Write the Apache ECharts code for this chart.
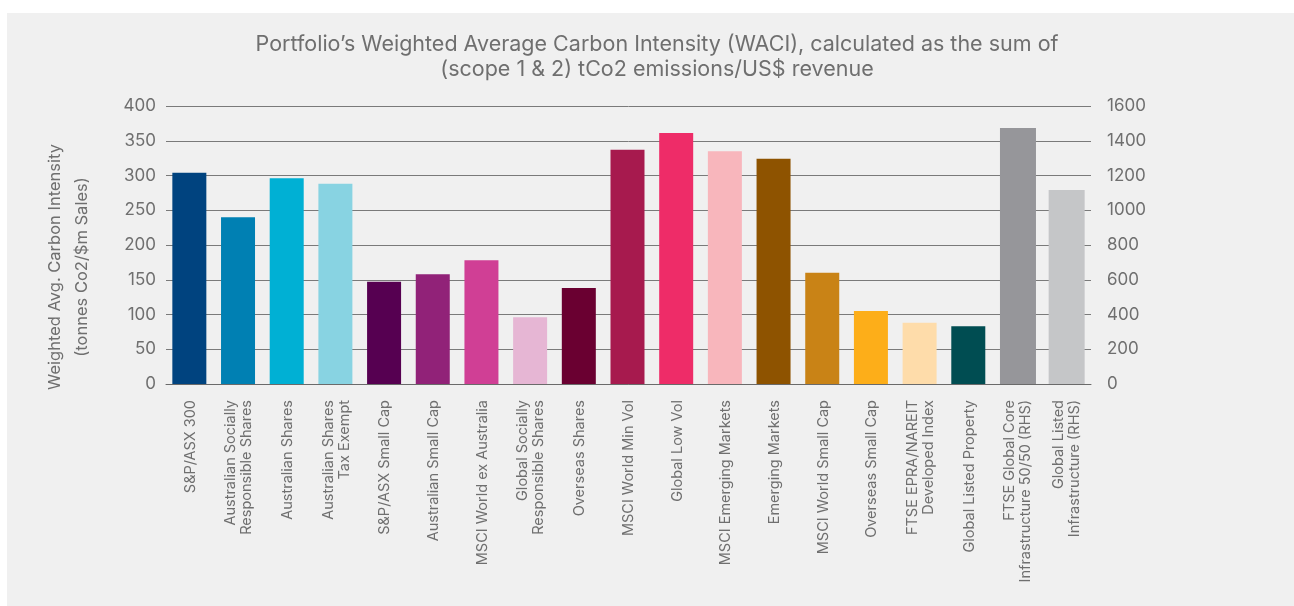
<!DOCTYPE html>
<html>
<head>
<meta charset="utf-8">
<script src="https://cdn.jsdelivr.net/npm/echarts@6/dist/echarts.min.js"></script>
<style>
  html, body { margin: 0; padding: 0; background: #ffffff; }
  #panel { position: absolute; left: 7px; top: 13px; width: 1287px; height: 593px; background: #f0f0f0; }
  #chart { position: absolute; left: 0; top: 0; width: 1294px; height: 606px; }
</style>
</head>
<body>
<div id="panel"></div>
<div id="chart"></div>
<script>
const categories = [
  "S&P/ASX 300",
  "Australian Socially\nResponsible Shares",
  "Australian Shares",
  "Australian Shares\nTax Exempt",
  "S&P/ASX Small Cap",
  "Australian Small Cap",
  "MSCI World ex Australia",
  "Global Socially\nResponsible Shares",
  "Overseas Shares",
  "MSCI World Min Vol",
  "Global Low Vol",
  "MSCI Emerging Markets",
  "Emerging Markets",
  "MSCI World Small Cap",
  "Overseas Small Cap",
  "FTSE EPRA/NAREIT\nDeveloped Index",
  "Global Listed Property",
  "FTSE Global Core\nInfrastructure 50/50 (RHS)",
  "Global Listed\nInfrastructure (RHS)"
];
const lhsValues = [304, 240, 296, 288, 147, 158, 178, 96, 138, 337, 361, 335, 324, 160, 105, 88, 83, null, null];
const rhsValues = [null, null, null, null, null, null, null, null, null, null, null, null, null, null, null, null, null, 1473, 1117];
const barColors = [
  "#00437f", "#0080b3", "#00b0d4", "#88d3e2", "#560051", "#912278", "#d03f95",
  "#e6b6d4", "#6a0031", "#a71a4e", "#ee2c68", "#f8b6bc", "#8e5300", "#c98316",
  "#fdae19", "#fedcaa", "#004d52", "#96969a", "#c5c6c8"
];
const titleLine1 = "Portfolio\u2019s Weighted Average Carbon Intensity (WACI), calculated as the sum of";
const titleLine2 = "(scope 1 & 2) tCo2 emissions/US$ revenue";
const yName = "Weighted Avg. Carbon Intensity\n(tonnes Co2/$m Sales)";

const txt = "#6f6f6f";
const font = "Inter, Roboto, 'Noto Sans', sans-serif";

const titleStyle = (t) => ({
  text: t, fill: txt, fontSize: 21.5, fontFamily: font,
  align: 'center', verticalAlign: 'middle'
});

const chart = echarts.init(document.getElementById('chart'), null, { renderer: 'canvas' });
chart.setOption({
  backgroundColor: 'transparent',
  animation: false,
  graphic: [
    { type: 'text', x: 657, y: 45, z: 10, style: titleStyle(titleLine1) },
    { type: 'text', x: 657, y: 70, z: 10, style: titleStyle(titleLine2) }
  ],
  grid: { left: 166, width: 925, top: 106, bottom: 222, containLabel: false },
  xAxis: {
    type: 'category',
    data: categories,
    axisTick: { show: false },
    axisLine: { show: true, lineStyle: { color: '#6a6a6a', width: 1 } },
    axisLabel: {
      interval: 0, rotate: 90, margin: 16, color: txt, fontSize: 14.5,
      fontFamily: font, lineHeight: 16, align: 'right'
    }
  },
  yAxis: [
    {
      type: 'value', min: 0, max: 400, interval: 50,
      name: yName, nameLocation: 'middle', nameGap: 70, nameRotate: 90,
      nameTextStyle: { color: txt, fontSize: 16.5, fontFamily: font, lineHeight: 27, padding: [0, 44, 0, 0] },
      axisLine: { show: false }, axisTick: { show: false },
      axisLabel: { color: txt, fontSize: 17, fontFamily: font, margin: 10 },
      splitLine: { show: true, lineStyle: { color: '#7a7a7a', width: 1 } }
    },
    {
      type: 'value', min: 0, max: 1600, interval: 200, position: 'right',
      axisLine: { show: false }, axisTick: { show: false },
      axisLabel: { color: txt, fontSize: 17, fontFamily: font, margin: 16, formatter: v => String(v) },
      splitLine: { show: false }
    }
  ],
  series: [
    {
      type: 'bar', yAxisIndex: 0, data: lhsValues, barWidth: 34, barGap: '-100%',
      itemStyle: { color: p => barColors[p.dataIndex] }
    },
    {
      type: 'bar', yAxisIndex: 1, data: rhsValues, barWidth: 36, barGap: '-100%',
      itemStyle: { color: p => barColors[p.dataIndex] }
    }
  ]
});
</script>
</body>
</html>
